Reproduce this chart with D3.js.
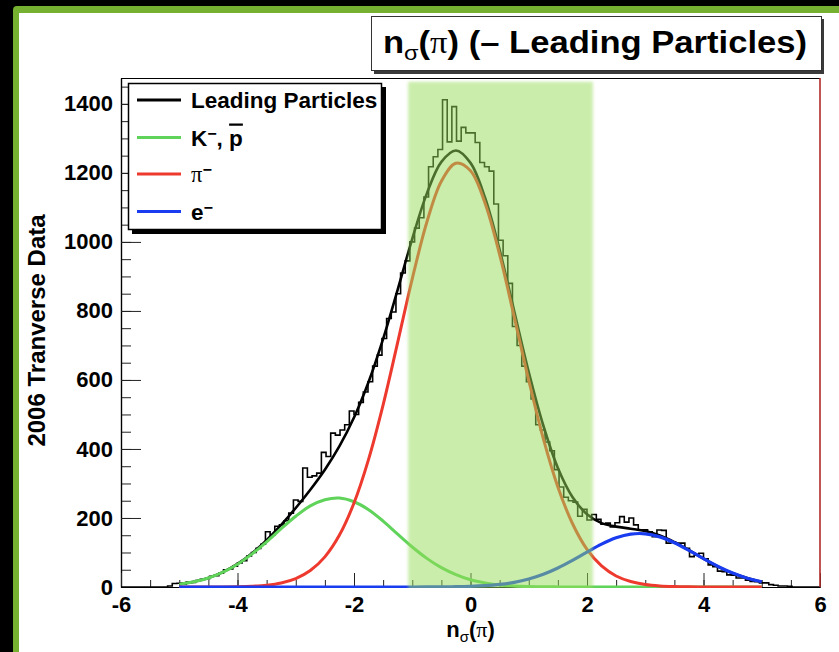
<!DOCTYPE html>
<html><head><meta charset="utf-8">
<script src="https://cdn.jsdelivr.net/npm/d3@7"></script>
<style>
html,body{margin:0;padding:0;background:#fff;}
svg{display:block;}
text{font-family:"Liberation Sans",Arial,Helvetica,sans-serif;}
</style>
</head><body>
<svg id="c" width="839" height="652"></svg>
<script>
// ---------- data ----------
const xTicks = [-6, -4, -2, 0, 2, 4, 6];
const yTicks = [0, 200, 400, 600, 800, 1000, 1200, 1400];
const xTickLabels = ["-6", "-4", "-2", "0", "2", "4", "6"];
const yTickLabels = ["0", "200", "400", "600", "800", "1000", "1200", "1400"];

// histogram: first bin lower edge, bin width, counts
const histStart = -5.2;
const histBinWidth = 0.08;
const histCounts = [
  3, 10, 11, 8, 14, 13, 19, 22, 24, 31,
  33, 40, 50, 52, 60, 70, 76, 90, 100, 112,
  124, 160, 150, 176, 180, 192, 214, 252, 248, 345,
  318, 322, 330, 390, 378, 446, 440, 455, 470, 510,
  500, 535, 565, 595, 640, 672, 720, 778, 797, 850,
  910, 945, 1000, 1040, 1070, 1130, 1218, 1247, 1268, 1412,
  1290, 1392, 1292, 1332, 1316, 1316, 1288, 1230, 1218, 1205,
  1110, 1005, 960, 880, 755, 700, 640, 595, 545, 470,
  455, 420, 395, 340, 290, 260, 250, 246, 205, 225,
  194, 210, 196, 182, 185, 174, 186, 204, 188, 200,
  180, 165, 166, 160, 146, 165, 164, 127, 131, 127,
  127, 112, 88, 92, 98, 82, 64, 59, 46, 44,
  35, 34, 26, 26, 20, 16, 15, 12, 12, 7,
  5, 3, 3, 2
];

// fitted curves sampled along n_sigma
const fitX = [-5, -4.75, -4.5, -4.25, -4, -3.75, -3.5, -3.25, -3, -2.75,
  -2.5, -2.25, -2, -1.75, -1.5, -1.25, -1, -0.75, -0.5, -0.25,
  0, 0.25, 0.5, 0.75, 1, 1.25, 1.5, 1.75, 2, 2.25,
  2.5, 2.75, 3, 3.25, 3.5, 3.75, 4, 4.25, 4.5, 4.75, 5];
const fitTotal = [8.3, 15.2, 26.4, 43.2, 66.9, 98, 136, 180, 229, 282,
  340, 408, 491, 594, 719, 862, 1009, 1140, 1232, 1265,
  1229, 1128, 977, 800, 623, 468, 345, 261, 211, 185,
  175, 169, 162, 149, 130, 107, 82, 59, 40, 26, 15];
const fitKp = [8, 15, 26, 43, 66, 96, 131, 169, 205, 235,
  253, 258, 247, 224, 191, 153, 116, 83, 56, 36,
  21, 12, 6, 3, 1.5, 0.7, 0.3, 0, 0, 0,
  0, 0, 0, 0, 0, 0, 0, 0, 0, 0, 0];
const fitPi = [0, 0, 0.1, 0.3, 0.9, 2.3, 5.3, 11.8, 24.4, 47.6,
  87.3, 150.4, 243.4, 370, 528, 709, 893, 1057, 1176, 1228,
  1206, 1112, 963, 783, 599, 430, 290, 184, 109, 61,
  32, 16, 7.4, 3.2, 1.3, 0.5, 0.2, 0, 0, 0, 0];
const fitE = [0, 0, 0, 0, 0, 0, 0, 0, 0, 0,
  0, 0, 0, 0, 0, 0, 0.05, 0.1, 0.35, 0.84,
  1.85, 3.85, 7.5, 13.6, 23.2, 37, 55.2, 77.3, 101.2, 124.1,
  142.5, 153.2, 154.2, 145.3, 128.2, 106, 82, 59.4, 40.3, 25.6, 15.2];

const bandRange = [-1.07, 2.1];
const bandTop = 1464;
const legendNames = ["Leading Particles", "K", "π", "e"];
const legendColors = ["#000000", "#5fd35a", "#ee3a2e", "#1a3cf0"];
const titleText = "(– Leading Particles)";
const yTitle = "2006 Tranverse Data";

// ---------- layout ----------
const svg = d3.select("#c");
const X0 = 121, X1 = 820, Y0 = 587, Y1 = 78;
const x = d3.scaleLinear().domain([-6, 6]).range([X0, X1]);
const y = d3.scaleLinear().domain([0, 1475]).range([Y0, Y1]);

// outer slide frame
svg.append("rect").attr("width", 839).attr("height", 652).attr("fill", "#000");
svg.append("rect").attr("x", 13).attr("y", 6).attr("width", 900).attr("height", 700).attr("rx", 4).attr("fill", "#76b030");
svg.append("rect").attr("x", 19).attr("y", 13).attr("width", 900).attr("height", 700).attr("fill", "#fff");

const defs = svg.append("defs");
defs.append("filter").attr("id", "blur").attr("x", "-10%").attr("y", "-10%").attr("width", "120%").attr("height", "120%")
  .append("feGaussianBlur").attr("stdDeviation", 1.6);
defs.append("clipPath").attr("id", "plotclip").append("rect")
  .attr("x", X0).attr("y", Y1).attr("width", X1 - X0).attr("height", Y0 - Y1 + 1);

const font = "Liberation Sans, Arial, Helvetica, sans-serif";

// axes
function styleAxis(g) {
  g.selectAll("path.domain").attr("stroke", "#000").attr("stroke-width", 1.2);
  g.selectAll(".tick line").attr("stroke", "#222").attr("stroke-width", 1);
  g.selectAll(".tick text").attr("fill", "#000").attr("font-family", font)
    .attr("font-weight", "bold").attr("font-size", 22);
}
const yMinor = d3.range(0, 1475, 50);
const xMinor = d3.range(-6, 6.001, 0.5);
svg.append("g").attr("transform", `translate(${X0},0)`)
  .call(d3.axisLeft(y).tickValues(yMinor).tickSizeInner(-10).tickSizeOuter(0).tickFormat(""))
  .call(styleAxis);
svg.append("g").attr("transform", `translate(${X0},0)`)
  .call(d3.axisLeft(y).tickValues(yTicks).tickSizeInner(-20).tickSizeOuter(0).tickPadding(8)
    .tickFormat((d, i) => yTickLabels[i]))
  .call(styleAxis);
svg.append("g").attr("transform", `translate(0,${Y0})`)
  .call(d3.axisBottom(x).tickValues(xMinor).tickSizeInner(-7).tickSizeOuter(0).tickFormat(""))
  .call(styleAxis);
svg.append("g").attr("transform", `translate(0,${Y0})`)
  .call(d3.axisBottom(x).tickValues(xTicks).tickSizeInner(-14).tickSizeOuter(0).tickPadding(9)
    .tickFormat((d, i) => xTickLabels[i]))
  .call(styleAxis);

// top frame
svg.append("line").attr("x1", X0).attr("x2", X1).attr("y1", Y1 + 0.5).attr("y2", Y1 + 0.5).attr("stroke", "#000").attr("stroke-width", 1);

const plot = svg.append("g").attr("clip-path", "url(#plotclip)");

// histogram
const histPts = [[-6, 0]];
histCounts.forEach((c, i) => histPts.push([histStart + i * histBinWidth, c]));
histPts.push([histStart + histCounts.length * histBinWidth, 0]);
histPts.push([6, 0]);
plot.append("path").datum(histPts)
  .attr("d", d3.line().x(d => x(d[0])).y(d => y(d[1])).curve(d3.curveStepAfter))
  .attr("fill", "none").attr("stroke", "#000").attr("stroke-width", 1.6);

// fits
const fitLine = d3.line().x((d, i) => x(fitX[i])).y(d => y(d)).curve(d3.curveCatmullRom.alpha(0.5));
[[fitTotal, legendColors[0], 2.6], [fitKp, legendColors[1], 3], [fitPi, legendColors[2], 3], [fitE, legendColors[3], 3.2]]
  .forEach(([vals, col, w]) => {
    plot.append("path").datum(vals).attr("d", fitLine)
      .attr("fill", "none").attr("stroke", col).attr("stroke-width", w).attr("stroke-linejoin", "round");
  });

// green selection band (translucent overlay)
plot.append("rect")
  .attr("x", x(bandRange[0])).attr("width", x(bandRange[1]) - x(bandRange[0]))
  .attr("y", y(bandTop)).attr("height", Y0 - y(bandTop) + 4)
  .attr("fill", "rgb(150,220,90)").attr("opacity", 0.5).attr("filter", "url(#blur)");

svg.append("line").attr("x1", X1).attr("x2", X1).attr("y1", Y1).attr("y2", Y0).attr("stroke", "#b02a2a").attr("stroke-width", 1.6);

// title box
svg.append("rect").attr("x", 374).attr("y", 19).attr("width", 450).attr("height", 55).attr("fill", "#3a3a3a");
svg.append("rect").attr("x", 371.5).attr("y", 16.5).attr("width", 450).attr("height", 54).attr("fill", "#fff").attr("stroke", "#333").attr("stroke-width", 1);
const tt = svg.append("text").attr("x", 383).attr("y", 53).attr("font-family", font).attr("font-weight", "bold").attr("font-size", 31).attr("fill", "#000");
tt.append("tspan").text("n");
tt.append("tspan").attr("font-size", 21).attr("font-weight", "normal").attr("dy", 7).text("σ");
tt.append("tspan").attr("dy", -7).text("(");
tt.append("tspan").attr("font-family", "Liberation Serif, Times New Roman, serif").attr("font-weight", "normal").text("π");
tt.append("tspan").text(") " + titleText);
tt.attr("textLength", 424).attr("lengthAdjust", "spacingAndGlyphs");

// legend
svg.append("rect").attr("x", 132).attr("y", 87).attr("width", 254).attr("height", 147).attr("fill", "#000");
svg.append("rect").attr("x", 128.5).attr("y", 83.5).attr("width", 253).attr("height", 146).attr("fill", "#fff").attr("stroke", "#000").attr("stroke-width", 1.5);
const legY = [100, 137.5, 174, 211.5];
legendNames.forEach((name, i) => {
  svg.append("line").attr("x1", 137).attr("x2", 181).attr("y1", legY[i]).attr("y2", legY[i])
    .attr("stroke", legendColors[i]).attr("stroke-width", 3);
  const t = svg.append("text").attr("x", 191).attr("y", legY[i] + 8).attr("font-family", font)
    .attr("font-weight", "bold").attr("font-size", 22.5).attr("fill", "#000");
  if (i === 0) {
    t.text(name);
  } else if (i === 1) {
    t.append("tspan").text(name);
    t.append("tspan").attr("font-size", 16).attr("dy", -7).text("−");
    t.append("tspan").attr("dy", 7).text(", ");
    t.append("tspan").style("text-decoration", "overline").text("p");
  } else if (i === 2) {
    t.append("tspan").attr("font-family", "Liberation Serif, Times New Roman, serif").attr("font-weight", "normal").text(name);
    t.append("tspan").attr("font-size", 16).attr("dy", -7).text("−");
  } else {
    t.append("tspan").text(name);
    t.append("tspan").attr("font-size", 16).attr("dy", -7).text("−");
  }
});

// axis titles
const xl = svg.append("text").attr("x", x(0)).attr("y", 636.5).attr("text-anchor", "middle")
  .attr("font-family", font).attr("font-weight", "bold").attr("font-size", 22).attr("fill", "#000");
xl.append("tspan").text("n");
xl.append("tspan").attr("font-size", 15).attr("font-weight", "normal").attr("dy", 5).text("σ");
xl.append("tspan").attr("dy", -5).text("(");
xl.append("tspan").attr("font-family", "Liberation Serif, Times New Roman, serif").attr("font-weight", "normal").text("π");
xl.append("tspan").text(")");

svg.append("text").attr("transform", "translate(45,330.5) rotate(-90)").attr("text-anchor", "middle")
  .attr("font-family", font).attr("font-weight", "bold").attr("font-size", 24).attr("fill", "#000")
  .text(yTitle);
</script>
</body></html>
